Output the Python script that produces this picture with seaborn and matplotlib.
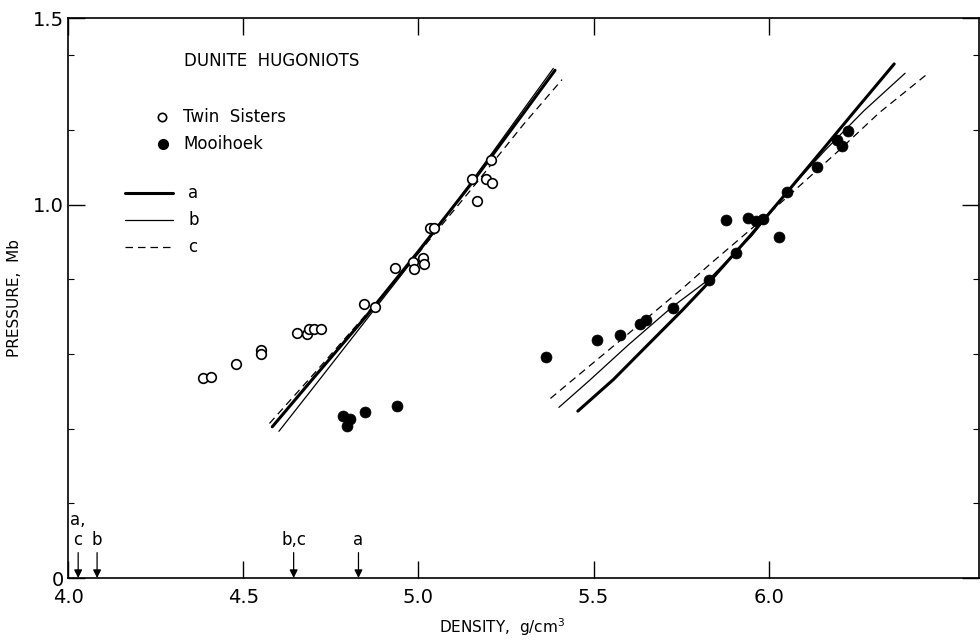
import numpy as np
import pandas as pd
import seaborn as sns
import matplotlib
matplotlib.use("Agg")
import matplotlib.pyplot as plt

# Twin Sisters dunite (open circles)
twin_density = [4.385, 4.407, 4.480, 4.552, 4.552, 4.653, 4.682, 4.688, 4.702, 4.722,
                4.845, 4.876, 4.933, 4.984, 5.012, 4.988, 5.015, 5.032, 5.045, 5.154,
                5.167, 5.194, 5.209, 5.206]
twin_pressure = [0.536, 0.539, 0.574, 0.611, 0.599, 0.657, 0.654, 0.666, 0.666, 0.666,
                 0.733, 0.725, 0.831, 0.846, 0.856, 0.828, 0.840, 0.938, 0.938, 1.069,
                 1.011, 1.069, 1.059, 1.120]

# Mooihoek dunite (filled circles)
mooi_density = [4.785, 4.804, 4.795, 4.847, 4.940, 5.364, 5.509, 5.576, 5.633, 5.651,
                5.728, 5.830, 5.906, 5.878, 5.942, 5.964, 5.984, 6.029, 6.051, 6.138,
                6.210, 6.225, 6.195]
mooi_pressure = [0.433, 0.427, 0.407, 0.445, 0.461, 0.591, 0.638, 0.652, 0.681, 0.692,
                 0.723, 0.799, 0.870, 0.959, 0.963, 0.957, 0.962, 0.913, 1.033, 1.100,
                 1.158, 1.196, 1.173]

# fitted Hugoniots a, b, c (left = Twin Sisters, right = Mooihoek)
a_left_d = [4.583, 4.70, 4.85, 5.00, 5.15, 5.30, 5.39]
a_left_p = [0.405, 0.535, 0.700, 0.875, 1.055, 1.245, 1.360]
b_left_d = [4.602, 4.70, 4.85, 5.00, 5.15, 5.30, 5.385]
b_left_p = [0.393, 0.510, 0.690, 0.870, 1.060, 1.255, 1.365]
c_left_d = [4.575, 4.70, 4.85, 5.00, 5.15, 5.30, 5.41]
c_left_p = [0.414, 0.545, 0.705, 0.870, 1.040, 1.215, 1.335]

a_right_d = [5.455, 5.557, 5.650, 5.753, 5.834, 5.95, 6.051, 6.15, 6.25, 6.358]
a_right_p = [0.447, 0.532, 0.620, 0.717, 0.797, 0.920, 1.032, 1.143, 1.256, 1.377]
b_right_d = [5.401, 5.488, 5.60, 5.723, 5.828, 5.95, 6.050, 6.16, 6.271, 6.389]
b_right_p = [0.457, 0.529, 0.625, 0.725, 0.799, 0.915, 1.032, 1.145, 1.251, 1.352]
c_right_d = [5.377, 5.446, 5.60, 5.753, 5.834, 5.95, 6.07, 6.20, 6.315, 6.455]
c_right_p = [0.481, 0.535, 0.655, 0.775, 0.842, 0.935, 1.035, 1.145, 1.246, 1.352]

# zero-pressure densities marked with arrows
arrow_density = [4.029, 4.083, 4.644, 4.829]
arrow_labels = ["a,\nc", "b", "b,c", "a"]

sns.set_style("ticks")
plt.rcParams["font.family"] = ["DejaVu Sans"]
plt.rcParams["text.color"] = "black"
plt.rcParams["axes.labelcolor"] = "black"
plt.rcParams["xtick.color"] = "black"
plt.rcParams["ytick.color"] = "black"

fig = plt.figure(figsize=(9.8, 6.42), dpi=100)
ax = fig.add_axes([68 / 980, 1 - 578 / 642, 911 / 980, 560 / 642])

sns.scatterplot(x=twin_density, y=twin_pressure, ax=ax, s=48, marker="o",
                facecolor="white", edgecolor="black", linewidth=1.2, zorder=4)
sns.scatterplot(x=mooi_density, y=mooi_pressure, ax=ax, s=62, marker="o",
                color="black", edgecolor="black", linewidth=0.5, zorder=4)

dash = (0, (6, 4))
curves = [
    (a_left_d, a_left_p, 2.2, "-"), (b_left_d, b_left_p, 0.9, "-"), (c_left_d, c_left_p, 0.9, dash),
    (a_right_d, a_right_p, 2.2, "-"), (b_right_d, b_right_p, 0.9, "-"), (c_right_d, c_right_p, 0.9, dash),
]
for d, p, lw, ls in curves:
    sns.lineplot(x=d, y=p, ax=ax, color="black", linewidth=lw, linestyle=ls,
                 sort=False, estimator=None, zorder=3)

# arrows at zero pressure
for xd, lab in zip(arrow_density, arrow_labels):
    ax.annotate("", xy=(xd, 0.0), xytext=(xd, 0.068),
                arrowprops=dict(arrowstyle="-|>", color="black", lw=0.9,
                                mutation_scale=12, shrinkA=0, shrinkB=0))
    ax.text(xd, 0.078, lab, ha="center", va="bottom", fontsize=12,
            linespacing=1.15, color="black")

# title and legend drawn inside the axes
lx = lambda px: (px - 68) / 911
ly = lambda py: 1 - (py - 18) / 560
ax.text(lx(184), ly(61), "DUNITE  HUGONIOTS", transform=ax.transAxes,
        fontsize=12, va="center", ha="left")
ax.plot([lx(162)], [ly(117)], "o", mfc="white", mec="black", ms=6, mew=1.2,
        transform=ax.transAxes)
ax.plot([lx(163)], [ly(144)], "o", color="black", ms=7, transform=ax.transAxes)
ax.text(lx(183), ly(117), "Twin  Sisters", transform=ax.transAxes, fontsize=12, va="center")
ax.text(lx(183), ly(144), "Mooihoek", transform=ax.transAxes, fontsize=12, va="center")
for py, lw, ls, lab in [(193, 2.2, "-", "a"), (220, 0.9, "-", "b"), (247, 0.9, dash, "c")]:
    ax.plot([lx(125), lx(173)], [ly(py), ly(py)], color="black", lw=lw, linestyle=ls,
            transform=ax.transAxes)
    ax.text(lx(188), ly(py), lab, transform=ax.transAxes, fontsize=12, va="center")

ax.set_xlim(4.0, 6.6)
ax.set_ylim(0, 1.5)
ax.set_xticks([4.0, 4.5, 5.0, 5.5, 6.0])
ax.set_xticklabels(["4.0", "4.5", "5.0", "5.5", "6.0"])
ax.set_yticks([0, 1.0, 1.5])
ax.set_yticklabels(["0", "1.0", "1.5"])
ax.set_yticks([0.2, 0.4, 0.6, 0.8, 1.2, 1.4], minor=True)
ax.tick_params(which="major", direction="in", length=12, width=1.0,
               top=True, right=True, labelsize=14)
ax.tick_params(axis="x", which="major", pad=7)
ax.tick_params(axis="y", which="major", pad=3)
ax.tick_params(which="minor", direction="in", length=4, width=0.8,
               top=False, right=True)
for sp in ax.spines.values():
    sp.set_linewidth(1.2)
    sp.set_color("black")

ax.set_xlabel("DENSITY,  g/cm$^3$", fontsize=11)
ax.xaxis.set_label_coords((502 - 68) / 911, -0.068)
ax.set_ylabel("PRESSURE,  Mb", fontsize=11)
ax.yaxis.set_label_coords(-0.05, 0.5)

fig.savefig("out.png", dpi=100)
